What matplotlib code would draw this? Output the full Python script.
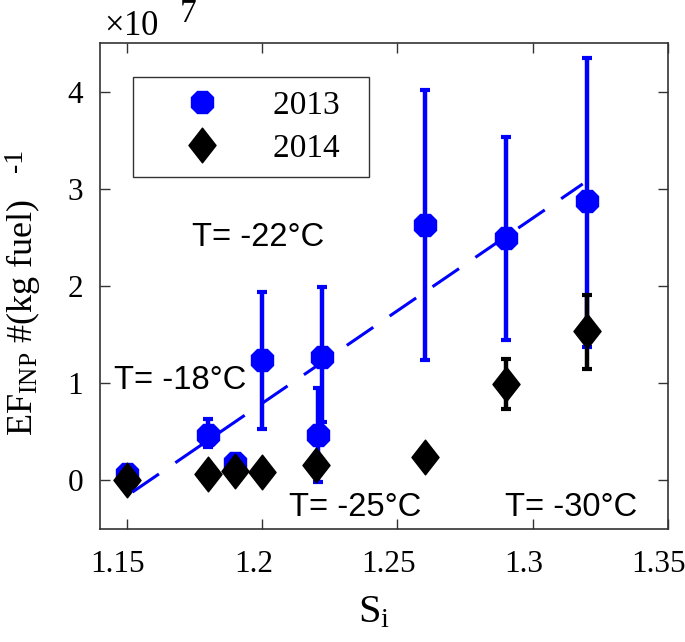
import numpy as np
import matplotlib.pyplot as plt
from matplotlib.path import Path
from matplotlib.lines import Line2D
from matplotlib.transforms import ScaledTranslation

plt.rcParams['font.family'] = 'Liberation Serif'
plt.rcParams['mathtext.fontset'] = 'custom'
plt.rcParams['mathtext.rm'] = 'Liberation Serif'
plt.rcParams['mathtext.it'] = 'Liberation Serif:italic'

# 2013 series (values in #/kg fuel)
si_2013 = [1.15, 1.18, 1.19, 1.20, 1.222, 1.2205, 1.26, 1.29, 1.32]
ef_2013 = [0.07e7, 0.47e7, 0.18e7, 1.24e7, 1.27e7, 0.47e7, 2.63e7, 2.49e7, 2.87e7]
top_2013 = [0.07e7, 0.63e7, 0.18e7, 1.94e7, 1.99e7, 0.95e7, 4.02e7, 3.53e7, 4.35e7]
bot_2013 = [0.07e7, 0.34e7, 0.18e7, 0.53e7, 0.60e7, -0.02e7, 1.24e7, 1.44e7, 1.37e7]

# 2014 series
si_2014 = [1.15, 1.18, 1.19, 1.20, 1.22, 1.26, 1.29, 1.32]
ef_2014 = [0.0, 0.07e7, 0.10e7, 0.09e7, 0.16e7, 0.24e7, 0.99e7, 1.54e7]
top_2014 = [0.0, 0.07e7, 0.10e7, 0.09e7, 0.16e7, 0.24e7, 1.25e7, 1.91e7]
bot_2014 = [0.0, 0.07e7, 0.10e7, 0.09e7, 0.16e7, 0.24e7, 0.73e7, 1.15e7]

# linear fit of 2013
fit_x = [1.152, 1.3185]
fit_y = [-0.12e7, 3.05e7]

temp_labels = ['T= -22°C', 'T= -18°C', 'T= -25°C', 'T= -30°C']
temp_x = [1.174, 1.1452, 1.21, 1.2896]
temp_y = [2.5e7, 1.03e7, -0.28e7, -0.28e7]

yticks = [0, 1e7, 2e7, 3e7, 4e7]
xticks = [1.15, 1.2, 1.25, 1.3, 1.35]

diamond = Path([(0, 1), (0.78, 0), (0, -1), (-0.78, 0), (0, 1)],
               [Path.MOVETO, Path.LINETO, Path.LINETO, Path.LINETO, Path.CLOSEPOLY])

fig = plt.figure(figsize=(6.85, 6.42), dpi=100)
ax = fig.add_axes([0.146, 0.176, 0.829, 0.757])

e13 = np.array(ef_2013)
err13 = [e13 - np.array(bot_2013), np.array(top_2013) - e13]
ax.errorbar(si_2013, ef_2013, yerr=err13, fmt='8', color='#0000ff', ms=17,
            elinewidth=3.2, capsize=3.3, capthick=3, zorder=2)

e14 = np.array(ef_2014)
err14 = [e14 - np.array(bot_2014), np.array(top_2014) - e14]
ax.errorbar(si_2014, ef_2014, yerr=err14, fmt='none', ecolor='k',
            elinewidth=3.2, capsize=3.3, capthick=3, zorder=3)
ax.plot(si_2014, ef_2014, linestyle='none', marker=diamond, color='k', ms=25,
        zorder=3)

ax.plot(fit_x, fit_y, '--', color='#0000ff', lw=2.2, dashes=(10.5, 6.5), zorder=4)

for lab, tx, ty in zip(temp_labels, temp_x, temp_y):
    ax.text(tx, ty, lab, family='Liberation Sans', fontsize=23.5, va='center')

ax.set_xlim(1.14, 1.35)
ax.set_ylim(-0.5e7, 4.5e7)
ax.set_xticks(xticks)
ax.set_xticklabels(['1.15', '1.2', '1.25', '1.3', '1.35'])
ax.set_yticks(yticks)
ax.set_yticklabels(['0', '1', '2', '3', '4'])
ax.tick_params(direction='in', top=True, right=True, labelsize=22.5,
               length=7, width=1, color='#333333', pad=12)
ax.tick_params(axis='x', pad=15)
for lbl in ax.get_xticklabels():
    lbl.set_transform(lbl.get_transform() +
                      ScaledTranslation(-0.09, 0, fig.dpi_scale_trans))
for sp in ax.spines.values():
    sp.set_color('#333333')
    sp.set_linewidth(1.2)

handles = [Line2D([], [], ls='none', marker='8', color='#0000ff', ms=17),
           Line2D([], [], ls='none', marker=diamond, color='k', ms=25)]
leg = ax.legend(handles, ['2013  ', '2014  '], loc='upper left',
                bbox_to_anchor=(0.058, 0.930), borderaxespad=0, fontsize=24,
                frameon=True, fancybox=False, edgecolor='k', borderpad=0.4,
                handletextpad=0.42, handlelength=3.37, labelspacing=0.37)
leg.get_frame().set_linewidth(1)

fig.text(0.152, 0.958, r'$\times$10', fontsize=25, va='center')
fig.text(0.262, 0.978, '7', fontsize=24, va='center')

fig.text(0.546, 0.045, r'S$_{\rm i}$', fontsize=29, ha='center', va='center')
fig.text(0.033, 0.505, r'EF$_{\rm INP}$ #(kg fuel)', fontsize=26, rotation=90,
         ha='center', va='center')
fig.text(0.022, 0.75, '-1', fontsize=20, rotation=90, ha='center', va='center')

fig.savefig('out.png', dpi=100)
